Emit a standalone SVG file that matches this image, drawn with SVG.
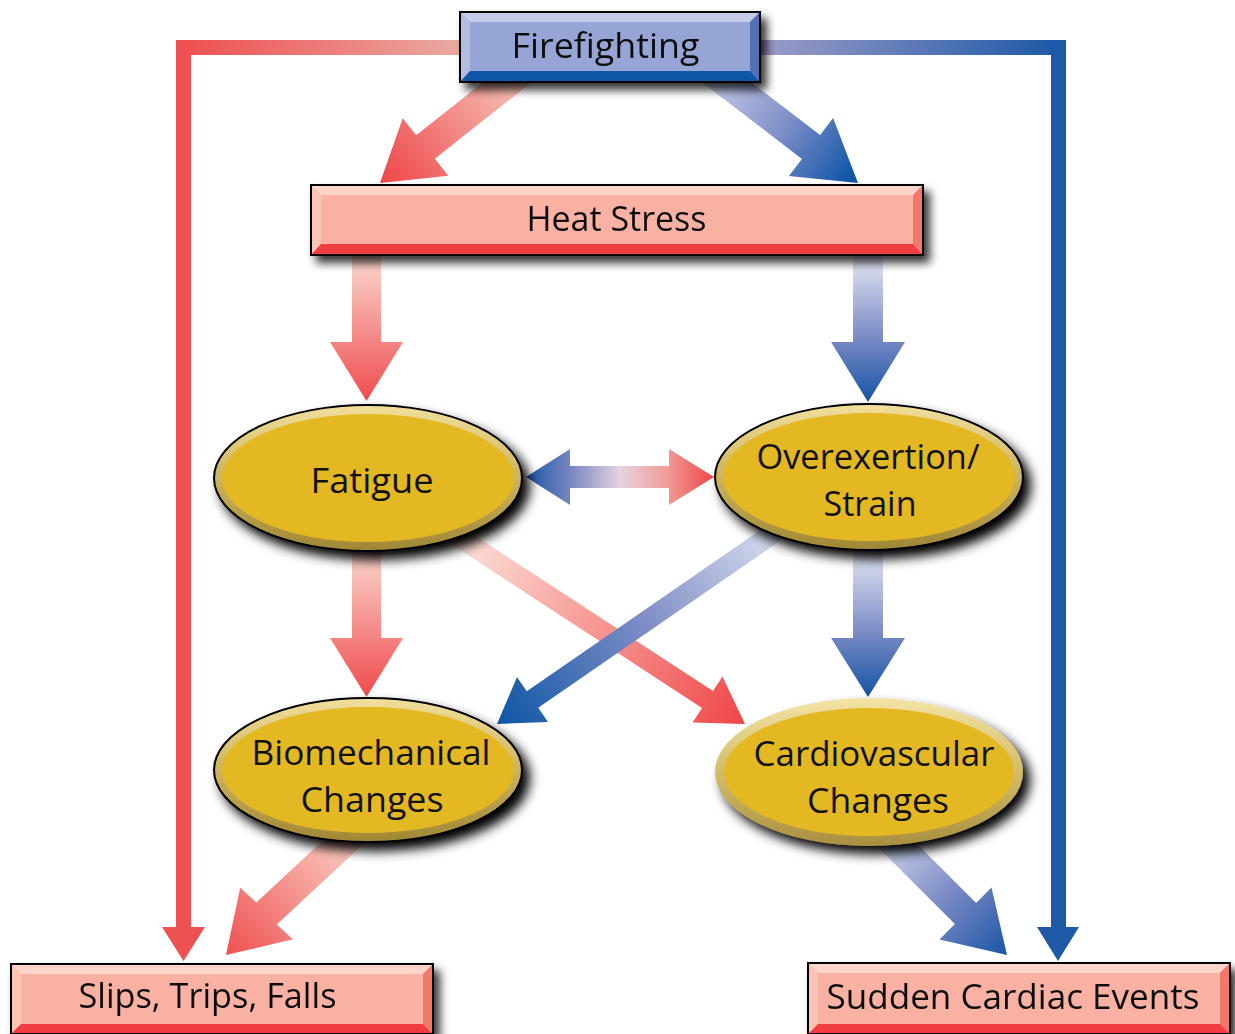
<svg xmlns="http://www.w3.org/2000/svg" width="1235" height="1034" viewBox="0 0 1235 1034">
<style>
.t{font-family:"Open Sans","Liberation Sans",sans-serif;font-size:35px;fill:#111;}
.bx{stroke:#000;stroke-width:2;fill:none;}
.el{stroke:#000;stroke-width:2;}
.inner{fill:#e4b823;}
</style>
<defs>
<filter id="sh" x="-15%" y="-30%" width="140%" height="180%">
<feGaussianBlur in="SourceAlpha" stdDeviation="5"/>
<feOffset dx="6" dy="7"/>
<feComponentTransfer><feFuncA type="linear" slope="0.8"/></feComponentTransfer>
<feMerge><feMergeNode/><feMergeNode in="SourceGraphic"/></feMerge>
</filter>
<filter id="she" x="-15%" y="-30%" width="140%" height="180%">
<feGaussianBlur in="SourceAlpha" stdDeviation="6"/>
<feOffset dx="7" dy="8"/>
<feComponentTransfer><feFuncA type="linear" slope="1"/></feComponentTransfer>
<feMerge><feMergeNode/><feMergeNode in="SourceGraphic"/></feMerge>
</filter>
<linearGradient id="rim" x1="0" y1="0" x2="0" y2="1">
<stop offset="0" stop-color="#f1df9c"/><stop offset="0.5" stop-color="#cdb35c"/><stop offset="1" stop-color="#9f8736"/>
</linearGradient>
<linearGradient id="rim2" x1="0" y1="0" x2="0" y2="1">
<stop offset="0" stop-color="#f3e3a6"/><stop offset="0.5" stop-color="#d4bc68"/><stop offset="1" stop-color="#a99041"/>
</linearGradient>
<linearGradient id="gHL" gradientUnits="userSpaceOnUse" x1="183" y1="0" x2="465" y2="0">
<stop offset="0" stop-color="#ef4f51"/><stop offset="1" stop-color="#e9aba4"/>
</linearGradient>
<linearGradient id="gHR" gradientUnits="userSpaceOnUse" x1="765" y1="0" x2="1058" y2="0">
<stop offset="0" stop-color="#9c9bc8"/><stop offset="1" stop-color="#1c58a5"/>
</linearGradient>
<linearGradient id="gR1" gradientUnits="userSpaceOnUse" x1="520" y1="80" x2="390" y2="180">
<stop offset="0" stop-color="#f7c4ba"/><stop offset="1" stop-color="#ee4b4d"/>
</linearGradient>
<linearGradient id="gB1" gradientUnits="userSpaceOnUse" x1="715" y1="80" x2="850" y2="180">
<stop offset="0" stop-color="#c3c9e6"/><stop offset="0.5" stop-color="#7f8ec8"/><stop offset="1" stop-color="#0d55a6"/>
</linearGradient>
<linearGradient id="gRv1" gradientUnits="userSpaceOnUse" x1="0" y1="258" x2="0" y2="400">
<stop offset="0" stop-color="#fbd6cd"/><stop offset="1" stop-color="#ef4c4e"/>
</linearGradient>
<linearGradient id="gBv1" gradientUnits="userSpaceOnUse" x1="0" y1="258" x2="0" y2="400">
<stop offset="0" stop-color="#e3e6f3"/><stop offset="0.55" stop-color="#7d8cc6"/><stop offset="1" stop-color="#1756a5"/>
</linearGradient>
<linearGradient id="gRv2" gradientUnits="userSpaceOnUse" x1="0" y1="552" x2="0" y2="695">
<stop offset="0" stop-color="#fbd6cd"/><stop offset="1" stop-color="#ef4c4e"/>
</linearGradient>
<linearGradient id="gBv2" gradientUnits="userSpaceOnUse" x1="0" y1="552" x2="0" y2="695">
<stop offset="0" stop-color="#e3e6f3"/><stop offset="0.55" stop-color="#7d8cc6"/><stop offset="1" stop-color="#1756a5"/>
</linearGradient>
<linearGradient id="gDbl" gradientUnits="userSpaceOnUse" x1="526" y1="0" x2="714" y2="0">
<stop offset="0" stop-color="#1c57a6"/><stop offset="0.25" stop-color="#7d89c4"/><stop offset="0.5" stop-color="#e6d4df"/><stop offset="0.75" stop-color="#f09c98"/><stop offset="1" stop-color="#ef4646"/>
</linearGradient>
<linearGradient id="gRx" gradientUnits="userSpaceOnUse" x1="456" y1="535" x2="745" y2="724">
<stop offset="0" stop-color="#fde4dd"/><stop offset="1" stop-color="#ef4646"/>
</linearGradient>
<linearGradient id="gBx" gradientUnits="userSpaceOnUse" x1="790" y1="520" x2="497" y2="724">
<stop offset="0" stop-color="#e2e6f3"/><stop offset="0.5" stop-color="#7f8dc6"/><stop offset="1" stop-color="#0d55a5"/>
</linearGradient>
<linearGradient id="gR3" gradientUnits="userSpaceOnUse" x1="355" y1="835" x2="226" y2="955">
<stop offset="0" stop-color="#fbd2c8"/><stop offset="1" stop-color="#ef5050"/>
</linearGradient>
<linearGradient id="gB3" gradientUnits="userSpaceOnUse" x1="885" y1="835" x2="1007" y2="955">
<stop offset="0" stop-color="#d4d9ee"/><stop offset="0.5" stop-color="#7c8bc6"/><stop offset="1" stop-color="#1a55a5"/>
</linearGradient>
</defs>
<rect width="1235" height="1034" fill="#fff"/>

<g id="connectors">
<rect x="176" y="40" width="294" height="15" fill="url(#gHL)"/>
<polygon points="176,40 191,40 191,927 205,927 183.5,961 162,927 176,927" fill="#ef5051"/>
<rect x="750" y="40" width="316" height="15" fill="url(#gHR)"/>
<polygon points="1051,40 1066,40 1066,927 1079,927 1058,961 1037,927 1051,927" fill="#1d59a6"/>
<polygon points="540.7,75 434.8,158.8 448.3,175.8 380,183 402.7,118.2 416.2,135.2 522.1,51.4" fill="url(#gR1)"/>
<polygon points="712.9,53 820.1,135.1 833.1,118.1 858,183 788.9,175.9 801.9,158.9 694.7,76.8" fill="url(#gB1)"/>
<polygon points="352,250 381,250 381,342 403,342 366.5,401 330,342 352,342" fill="url(#gRv1)"/>
<polygon points="853,250 883,250 883,342 905,342 868,402 831,342 853,342" fill="url(#gBv1)"/>
<polygon points="526,477 570,449 570,466 669,466 669,449 714,477 669,505 669,488 570,488 570,505" fill="url(#gDbl)"/>
<polygon points="352,545 381,545 381,638 403,638 366.5,697 330,638 352,638" fill="url(#gRv2)"/>
<polygon points="853,545 883,545 883,638 905,638 868,697 831,638 853,638" fill="url(#gBv2)"/>
<polygon points="445.1,516.1 713,691.1 722.4,676.6 745,724 692.6,722.4 702,707.9 434.1,532.9" fill="url(#gRx)"/>
<polygon points="801.8,525.8 538.2,707.7 548,722 497,724 517,677 526.8,691.3 790.4,509.4" fill="url(#gBx)"/>
<polygon points="372,836.1 276.7,924.5 292.8,939.2 226,955 240.2,887.8 256.3,902.5 351.6,814.1" fill="url(#gR3)"/>
<polygon points="891.2,818 976.1,902.9 991.5,887.5 1007,955 939.5,939.5 954.9,924.1 870,839.2" fill="url(#gB3)"/>
</g>

<g id="firefighting" filter="url(#sh)">
<rect x="460" y="12" width="300" height="70" fill="#97a5d6"/>
<polygon points="460,12 760,12 750,22 470,22" fill="#c5cce8"/>
<polygon points="460,12 470,22 470,71 460,82" fill="#b3bde2"/>
<polygon points="760,12 750,22 750,71 760,82" fill="#5571b6"/>
<polygon points="460,82 470,71 750,71 760,82" fill="#0a56a8"/>
<rect class="bx" x="460" y="12" width="300" height="70"/>
<text class="t" x="511.5" y="58" textLength="188" lengthAdjust="spacingAndGlyphs">Firefighting</text>
</g>

<g id="heatstress" filter="url(#sh)">
<rect x="311" y="185" width="612" height="70" fill="#f8b1a3"/>
<polygon points="311,185 923,185 913,195 321,195" fill="#fcd4c9"/>
<polygon points="311,185 321,195 321,244 311,255" fill="#fcc4b5"/>
<polygon points="923,185 913,195 913,244 923,255" fill="#f27868"/>
<polygon points="311,255 321,244 913,244 923,255" fill="#ef3d42"/>
<rect class="bx" x="311" y="185" width="612" height="70"/>
<text class="t" x="526.5" y="231" textLength="180" lengthAdjust="spacingAndGlyphs">Heat Stress</text>
</g>

<g id="fatigue">
<ellipse cx="368" cy="478" rx="154" ry="73" fill="url(#rim)" class="el" filter="url(#she)"/>
<ellipse class="inner" cx="368" cy="478" rx="146" ry="64"/>
<text class="t" x="310.5" y="493" textLength="123" lengthAdjust="spacingAndGlyphs">Fatigue</text>
</g>

<g id="overexertion">
<ellipse cx="869" cy="477" rx="154" ry="73" fill="url(#rim)" class="el" filter="url(#she)"/>
<ellipse class="inner" cx="869" cy="477" rx="146" ry="64"/>
<text class="t" x="756.5" y="469" textLength="223" lengthAdjust="spacingAndGlyphs">Overexertion/</text>
<text class="t" x="823.5" y="516" textLength="93" lengthAdjust="spacingAndGlyphs">Strain</text>
</g>

<g id="biomechanical">
<ellipse cx="368" cy="770" rx="154" ry="72" fill="url(#rim)" class="el" filter="url(#she)"/>
<ellipse class="inner" cx="368" cy="770" rx="146" ry="63"/>
<text class="t" x="251.5" y="765" textLength="239" lengthAdjust="spacingAndGlyphs">Biomechanical</text>
<text class="t" x="300.5" y="812" textLength="143" lengthAdjust="spacingAndGlyphs">Changes</text>
</g>

<g id="cardiovascular">
<ellipse cx="869" cy="772" rx="154" ry="74" fill="url(#rim2)" filter="url(#she)"/>
<ellipse class="inner" cx="869" cy="772" rx="145" ry="64"/>
<text class="t" x="753.5" y="766" textLength="241" lengthAdjust="spacingAndGlyphs">Cardiovascular</text>
<text class="t" x="807" y="813" textLength="142" lengthAdjust="spacingAndGlyphs">Changes</text>
</g>

<g id="slips" filter="url(#sh)">
<rect x="11" y="964" width="422" height="70" fill="#f8b1a3"/>
<polygon points="11,964 433,964 423,974 21,974" fill="#fcd4c9"/>
<polygon points="11,964 21,974 21,1024 11,1034" fill="#fcc4b5"/>
<polygon points="433,964 423,974 423,1024 433,1034" fill="#f27868"/>
<polygon points="11,1034 21,1024 423,1024 433,1034" fill="#ef3d42"/>
<rect class="bx" x="11" y="964" width="422" height="70"/>
<text class="t" x="78.5" y="1008" textLength="258" lengthAdjust="spacingAndGlyphs">Slips, Trips, Falls</text>
</g>

<g id="sudden" filter="url(#sh)">
<rect x="808" y="963" width="422" height="71" fill="#f8b1a3"/>
<polygon points="808,963 1230,963 1220,973 818,973" fill="#fcd4c9"/>
<polygon points="808,963 818,973 818,1024 808,1034" fill="#fcc4b5"/>
<polygon points="1230,963 1220,973 1220,1024 1230,1034" fill="#f27868"/>
<polygon points="808,1034 818,1024 1220,1024 1230,1034" fill="#ef3d42"/>
<rect class="bx" x="808" y="963" width="422" height="71"/>
<text class="t" x="826.5" y="1009" textLength="373" lengthAdjust="spacingAndGlyphs">Sudden Cardiac Events</text>
</g>
</svg>
